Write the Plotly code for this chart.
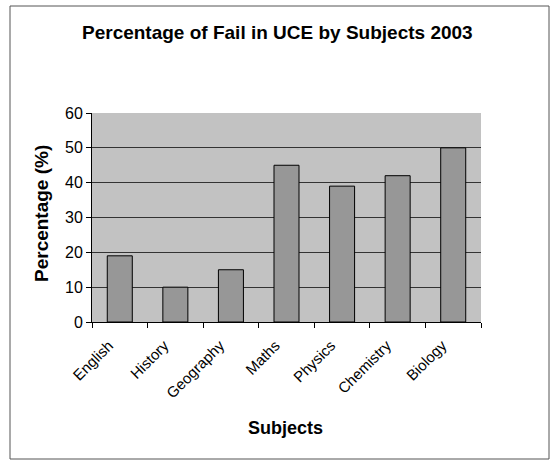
import plotly.graph_objects as go

subjects = ["English", "History", "Geography", "Maths", "Physics", "Chemistry", "Biology"]
fail_pct = [19, 10, 15, 45, 39, 42, 50]
y_ticks = [0, 10, 20, 30, 40, 50, 60]

W, H = 555, 460
L, R, T, B = 92, 74, 113, 138
pw, ph = W - L - R, H - T - B

def px(x):
    return (x - L) / pw

def py(y):
    return (H - B - y) / ph

FONT = "Liberation Sans, Arial, sans-serif"

fig = go.Figure(go.Bar(
    x=subjects, y=fail_pct,
    marker=dict(color="#979797", line=dict(color="#000000", width=1)),
    width=0.45,
))

fig.update_layout(
    width=W, height=H,
    margin=dict(l=L, r=R, t=T, b=B),
    paper_bgcolor="white",
    plot_bgcolor="#c2c2c2",
    showlegend=False,
    font=dict(family=FONT, color="#000000"),
    xaxis=dict(
        showgrid=False, showline=True, linecolor="#000000", linewidth=1,
        ticks="outside", ticklen=5, tickcolor="#000000", tickson="boundaries",
        tickangle=-45, tickfont=dict(size=15, family=FONT),
        ticklabelshift=-11, ticklabelstandoff=8,
    ),
    yaxis=dict(
        range=[0, 60], tickvals=y_ticks, showgrid=True, gridcolor="#333333", gridwidth=1,
        showline=True, linecolor="#000000", linewidth=1,
        ticks="outside", ticklen=5, tickcolor="#000000",
        tickfont=dict(size=16, family=FONT), zeroline=False,
    ),
    shapes=[dict(type="rect", xref="paper", yref="paper",
                 x0=px(10), x1=px(549), y0=py(459), y1=py(6),
                 line=dict(color="#555555", width=1), fillcolor="rgba(0,0,0,0)", layer="below")],
    annotations=[
        dict(text="<b>Percentage of Fail in UCE by Subjects 2003</b>", xref="paper", yref="paper",
             x=px(277), y=py(32), showarrow=False, font=dict(size=19, family=FONT),
             xanchor="center", yanchor="middle"),
        dict(text="<b>Subjects</b>", xref="paper", yref="paper",
             x=px(285), y=py(428), showarrow=False, font=dict(size=18, family=FONT),
             xanchor="center", yanchor="middle"),
        dict(text="<b>Percentage (%)</b>", xref="paper", yref="paper",
             x=px(41), y=py(214), showarrow=False, font=dict(size=19, family=FONT),
             textangle=-90, xanchor="center", yanchor="middle"),
    ],
)

fig.write_html("out.html")
